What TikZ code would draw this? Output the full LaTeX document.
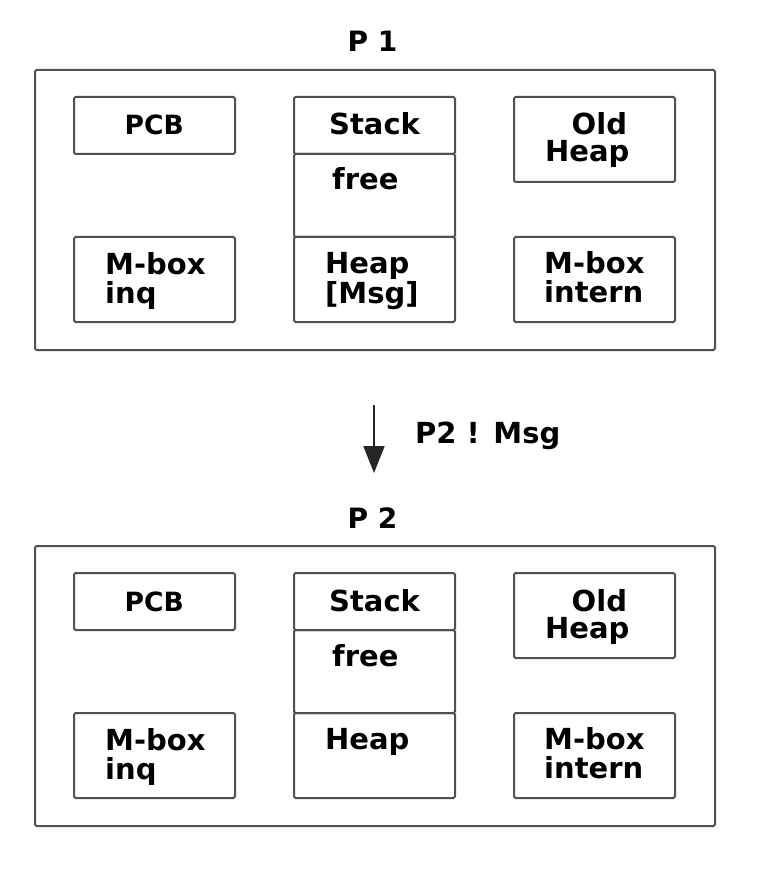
\documentclass[tikz,border=0pt]{standalone}
\usepackage{fontspec}
\setmainfont{DejaVu Sans}
\usetikzlibrary{arrows.meta}
\definecolor{edge}{HTML}{505050}
\tikzset{
  box/.style={draw=edge, line width=2pt, rounded corners=1.5pt, inner sep=0pt, anchor=north west},
  txt/.style={anchor=base west, inner sep=0pt, font=\bfseries\fontsize{29}{29}\selectfont},
  toptxt/.style={txt, text depth=0pt},
  smalltxt/.style={anchor=base west, inner sep=0pt, font=\bfseries\fontsize{26.5}{28}\selectfont},
  titletxt/.style={anchor=base, inner sep=0pt, font=\bfseries\fontsize{28}{28}\selectfont},
  flow/.style={draw=black!85, line width=2pt, -{Triangle[width=21pt,length=27pt]}}
}
\newcommand{\procblock}[4]{%
  \begin{scope}[shift={(0,#2)}]
    \node[box, minimum width=680pt, minimum height=280pt] (outer#1) at (34,69) {};
    \node[titletxt] (title#1) at (372.5,52) {#3};
    \node[box, minimum width=161pt, minimum height=57pt] (pcb#1) at (73,96) {};
    \node[smalltxt] (pcbt#1) at (124.5,135) {PCB};
    \node[box, minimum width=161pt, minimum height=85pt] (inq#1) at (73,236) {};
    \node[toptxt] (inqa#1) at (105,274) {M-box};
    \node[txt] (inqb#1) at (105,303) {inq};
    \node[box, minimum width=161pt, minimum height=57pt] (stack#1) at (293,96) {};
    \node[txt] (stackt#1) at (329,135) {Stack};
    \node[box, minimum width=161pt, minimum height=83pt] (free#1) at (293,153) {};
    \node[txt] (freet#1) at (332,190) {free};
    \node[box, minimum width=161pt, minimum height=85pt] (heap#1) at (293,236) {};
    \node[toptxt] (heapa#1) at (325,273) {Heap};
    #4
    \node[box, minimum width=161pt, minimum height=85pt] (old#1) at (513,96) {};
    \node[toptxt] (olda#1) at (571.5,135) {Old};
    \node[txt] (oldb#1) at (545,162) {Heap};
    \node[box, minimum width=161pt, minimum height=85pt] (int#1) at (513,236) {};
    \node[toptxt] (inta#1) at (544,273) {M-box};
    \node[txt] (intb#1) at (544,302) {intern};
  \end{scope}}
\begin{document}
\begin{tikzpicture}[x=1pt, y=-1pt]
  \useasboundingbox (0,0) rectangle (782,874);
  \procblock{1}{0}{P 1}{\node[txt] (heapb1) at (325,303) {[Msg]};}
  \procblock{2}{476}{P 2}{}
  \coordinate (a1) at (374,405);
  \coordinate (a2) at (374,473);
  \draw[flow] (a1) -- (a2);
  \node[txt] (msg) at (415,443) {P2 ! Msg};
\end{tikzpicture}
\end{document}
